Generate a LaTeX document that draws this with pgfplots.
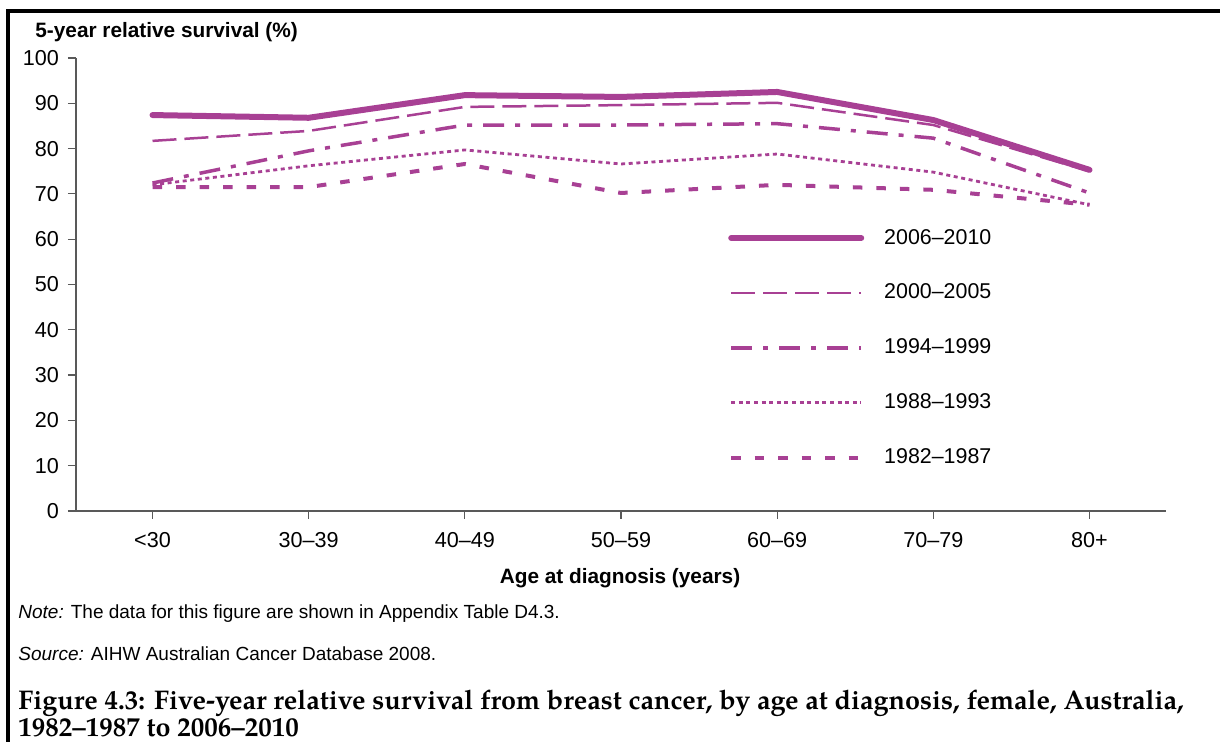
\documentclass[border=0pt]{standalone}
\usepackage{pgfplots}
\pgfplotsset{compat=1.18}
\usepackage{fontspec}
\setmainfont{Liberation Sans}
\newfontfamily\capfont{TeX Gyre Pagella}
\definecolor{plum}{RGB}{168,64,148}

\begin{document}
\begin{tikzpicture}[x=1pt,y=1pt]
\useasboundingbox (0,0) rectangle (610,371);
\draw[line width=1.6pt] (4,-2) -- (4,365.5) -- (614,365.5);
\begin{axis}[
  at={(38pt,115.5pt)}, anchor=south west,
  scale only axis, width=545pt, height=226.5pt,
  xmin=-0.49, xmax=6.49, ymin=0, ymax=100,
  axis lines=left,
  axis line style={-, draw=black!65, line width=0.8pt},
  xtick={0,...,6},
  xticklabels={<30,30--39,40--49,50--59,60--69,70--79,80+},
  ytick={0,10,...,100},
  tick align=outside, tick style={black!65, line width=0.6pt},
  major tick length=4pt,
  tick label style={font=\fontsize{10.8}{12}\selectfont},
  /pgf/number format/assume math mode=true,
  xticklabel style={yshift=-3pt},
  yticklabel style={xshift=-1pt},
  legend image code/.code={\draw[#1] (0pt,0pt) -- (65pt,0pt); \path (69pt,0pt);},
  legend cell align=left,
  legend style={at={(rel axis cs:0.598,0.632)}, anchor=north west,
    draw=none, fill=none, inner sep=0pt, row sep=14.5pt,
    font=\fontsize{10.7}{12}\selectfont,
    nodes={inner xsep=6pt}},
]
\addplot[plum, line width=3pt, line cap=round] coordinates
  {(0,87.4) (1,86.8) (2,91.8) (3,91.4) (4,92.5) (5,86.3) (6,75.3)};
\addlegendentry{2006--2010}
\addplot[plum, line width=1.25pt, dash pattern=on 12pt off 4pt] coordinates
  {(0,81.7) (1,83.9) (2,89.2) (3,89.6) (4,90.1) (5,85.2) (6,75.0)};
\addlegendentry{2000--2005}
\addplot[plum, line width=1.75pt, dash pattern=on 10.5pt off 5.5pt on 2.5pt off 5.5pt] coordinates
  {(0,72.4) (1,79.5) (2,85.2) (3,85.2) (4,85.5) (5,82.3) (6,70.2)};
\addlegendentry{1994--1999}
\addplot[plum, line width=1.4pt, dash pattern=on 2pt off 1.8pt] coordinates
  {(0,72.0) (1,76.2) (2,79.7) (3,76.6) (4,78.8) (5,74.8) (6,67.6)};
\addlegendentry{1988--1993}
\addplot[plum, line width=2pt, dash pattern=on 4.75pt off 7pt] coordinates
  {(0,71.5) (1,71.5) (2,76.6) (3,70.2) (4,72.0) (5,70.9) (6,67.6)};
\addlegendentry{1982--1987}
\end{axis}
\node[anchor=west, inner xsep=0pt, font=\bfseries\fontsize{10.4}{12}\selectfont] at (17.5,355) {5-year relative survival (\%)};
\node[font=\bfseries\fontsize{10.4}{12}\selectfont] at (310,82) {Age at diagnosis (years)};
\node[anchor=west, inner xsep=0pt, font=\fontsize{9.5}{11}\selectfont] at (9,64) {\textit{Note:} The data for this figure are shown in Appendix Table D4.3.};
\node[anchor=west, inner xsep=0pt, font=\fontsize{9.5}{11}\selectfont] at (9,44) {\textit{Source:} AIHW Australian Cancer Database 2008.};
\node[anchor=base west, inner xsep=0pt, font=\capfont\bfseries\fontsize{13.5}{15}\selectfont] at (9,16) {Figure 4.3: Five-year relative survival from breast cancer, by age at diagnosis, female, Australia,};
\node[anchor=base west, inner xsep=0pt, font=\capfont\bfseries\fontsize{13.5}{15}\selectfont] at (9,2.5) {1982–1987 to 2006–2010};
\end{tikzpicture}
\end{document}
